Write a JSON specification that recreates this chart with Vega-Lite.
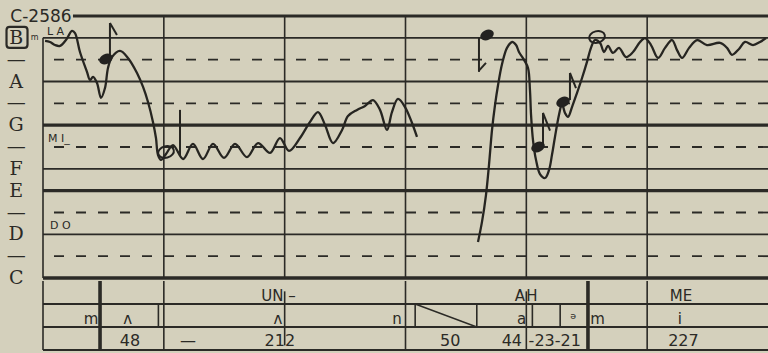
{
  "$schema": "https://vega.github.io/schema/vega-lite/v6.json",
  "width": 725,
  "height": 334,
  "autosize": {"type": "none"},
  "padding": {"left": 43, "top": 16, "right": 0, "bottom": 3},
  "background": "#d4d0bc",
  "config": {"view": {"stroke": null}, "axis": {"grid": false, "domain": false, "ticks": false}},
  "datasets": {
    "staffLines": [
      {"s": 0, "note": "C", "label": "C", "kind": "triad"}, {"s": 1, "note": "C#", "label": "—", "kind": "sharp"},
      {"s": 2, "note": "D", "label": "D", "kind": "natural"}, {"s": 3, "note": "D#", "label": "—", "kind": "sharp"},
      {"s": 4, "note": "E", "label": "E", "kind": "triad"}, {"s": 5, "note": "F", "label": "F", "kind": "natural"},
      {"s": 6, "note": "F#", "label": "—", "kind": "sharp"}, {"s": 7, "note": "G", "label": "G", "kind": "triad"},
      {"s": 8, "note": "G#", "label": "—", "kind": "sharp"}, {"s": 9, "note": "A", "label": "A", "kind": "natural"},
      {"s": 10, "note": "A#", "label": "—", "kind": "sharp"}, {"s": 11, "note": "B", "label": "B", "kind": "natural"}
    ],
    "staffV": [
      {"t": 0, "s0": 0, "s1": 11}, {"t": 1, "s0": 0, "s1": 12}, {"t": 2, "s0": 0, "s1": 12},
      {"t": 3, "s0": 0, "s1": 12}, {"t": 4, "s0": 0, "s1": 12}, {"t": 5, "s0": 0, "s1": 12}
    ],
    "curve": [
      {"seg": "a", "t": 0.017, "s": 10.86}, {"seg": "a", "t": 0.058, "s": 10.81}, {"seg": "a", "t": 0.099, "s": 10.67},
      {"seg": "a", "t": 0.141, "s": 10.63}, {"seg": "a", "t": 0.19, "s": 10.9}, {"seg": "a", "t": 0.24, "s": 11.32},
      {"seg": "a", "t": 0.265, "s": 11.22}, {"seg": "a", "t": 0.306, "s": 10.35}, {"seg": "a", "t": 0.364, "s": 9.44},
      {"seg": "a", "t": 0.389, "s": 9.07}, {"seg": "a", "t": 0.414, "s": 9.21}, {"seg": "a", "t": 0.447, "s": 8.93},
      {"seg": "a", "t": 0.48, "s": 8.25}, {"seg": "a", "t": 0.513, "s": 8.7}, {"seg": "a", "t": 0.538, "s": 9.62},
      {"seg": "a", "t": 0.571, "s": 10.12}, {"seg": "a", "t": 0.637, "s": 10.4}, {"seg": "a", "t": 0.703, "s": 10.08},
      {"seg": "a", "t": 0.778, "s": 9.39}, {"seg": "a", "t": 0.828, "s": 8.75}, {"seg": "a", "t": 0.869, "s": 8.06},
      {"seg": "a", "t": 0.91, "s": 7.15}, {"seg": "a", "t": 0.935, "s": 6.41}, {"seg": "a", "t": 0.952, "s": 5.63},
      {"seg": "a", "t": 0.977, "s": 5.41}, {"seg": "a", "t": 1.018, "s": 5.68}, {"seg": "a", "t": 1.076, "s": 6.09},
      {"seg": "a", "t": 1.159, "s": 5.45}, {"seg": "a", "t": 1.241, "s": 6.14}, {"seg": "a", "t": 1.324, "s": 5.45},
      {"seg": "a", "t": 1.407, "s": 6.14}, {"seg": "a", "t": 1.498, "s": 5.5}, {"seg": "a", "t": 1.589, "s": 6.14},
      {"seg": "a", "t": 1.688, "s": 5.54}, {"seg": "a", "t": 1.779, "s": 6.18}, {"seg": "a", "t": 1.879, "s": 5.73},
      {"seg": "a", "t": 1.961, "s": 6.41}, {"seg": "a", "t": 2.036, "s": 5.82}, {"seg": "a", "t": 2.127, "s": 6.41},
      {"seg": "a", "t": 2.21, "s": 7.15}, {"seg": "a", "t": 2.276, "s": 7.6}, {"seg": "a", "t": 2.334, "s": 7.01},
      {"seg": "a", "t": 2.4, "s": 6.18}, {"seg": "a", "t": 2.475, "s": 6.78}, {"seg": "a", "t": 2.524, "s": 7.42},
      {"seg": "a", "t": 2.599, "s": 7.7}, {"seg": "a", "t": 2.665, "s": 7.88}, {"seg": "a", "t": 2.731, "s": 8.15},
      {"seg": "a", "t": 2.789, "s": 7.7}, {"seg": "a", "t": 2.847, "s": 6.78}, {"seg": "a", "t": 2.888, "s": 7.6},
      {"seg": "a", "t": 2.938, "s": 8.2}, {"seg": "a", "t": 2.996, "s": 7.83}, {"seg": "a", "t": 3.054, "s": 7.1},
      {"seg": "a", "t": 3.095, "s": 6.46},
      {"seg": "b", "t": 3.6, "s": 1.65}, {"seg": "b", "t": 3.633, "s": 2.57}, {"seg": "b", "t": 3.666, "s": 3.8},
      {"seg": "b", "t": 3.691, "s": 5.18}, {"seg": "b", "t": 3.716, "s": 6.78}, {"seg": "b", "t": 3.741, "s": 7.93},
      {"seg": "b", "t": 3.766, "s": 8.84}, {"seg": "b", "t": 3.799, "s": 9.8}, {"seg": "b", "t": 3.84, "s": 10.54},
      {"seg": "b", "t": 3.882, "s": 10.81}, {"seg": "b", "t": 3.915, "s": 10.67}, {"seg": "b", "t": 3.939, "s": 10.35},
      {"seg": "b", "t": 3.981, "s": 9.99}, {"seg": "b", "t": 4.014, "s": 9.62}, {"seg": "b", "t": 4.03, "s": 8.61},
      {"seg": "b", "t": 4.039, "s": 7.47}, {"seg": "b", "t": 4.055, "s": 6.32}, {"seg": "b", "t": 4.08, "s": 5.41},
      {"seg": "b", "t": 4.113, "s": 4.76}, {"seg": "b", "t": 4.155, "s": 4.58}, {"seg": "b", "t": 4.188, "s": 4.95},
      {"seg": "b", "t": 4.212, "s": 5.63}, {"seg": "b", "t": 4.237, "s": 6.46}, {"seg": "b", "t": 4.27, "s": 7.47},
      {"seg": "b", "t": 4.295, "s": 7.97}, {"seg": "b", "t": 4.32, "s": 7.56}, {"seg": "b", "t": 4.345, "s": 7.38},
      {"seg": "b", "t": 4.378, "s": 7.83}, {"seg": "b", "t": 4.419, "s": 8.47}, {"seg": "b", "t": 4.461, "s": 9.16},
      {"seg": "b", "t": 4.502, "s": 9.9}, {"seg": "b", "t": 4.535, "s": 10.54}, {"seg": "b", "t": 4.568, "s": 10.9},
      {"seg": "b", "t": 4.61, "s": 10.77}, {"seg": "b", "t": 4.643, "s": 10.35}, {"seg": "b", "t": 4.676, "s": 10.63},
      {"seg": "b", "t": 4.717, "s": 10.31}, {"seg": "b", "t": 4.767, "s": 10.54}, {"seg": "b", "t": 4.825, "s": 10.12},
      {"seg": "b", "t": 4.883, "s": 10.35}, {"seg": "b", "t": 4.941, "s": 10.81}, {"seg": "b", "t": 4.982, "s": 10.99},
      {"seg": "b", "t": 5.032, "s": 10.67}, {"seg": "b", "t": 5.09, "s": 10.08}, {"seg": "b", "t": 5.148, "s": 10.54},
      {"seg": "b", "t": 5.206, "s": 10.9}, {"seg": "b", "t": 5.247, "s": 10.44}, {"seg": "b", "t": 5.289, "s": 10.08},
      {"seg": "b", "t": 5.347, "s": 10.54}, {"seg": "b", "t": 5.413, "s": 10.9}, {"seg": "b", "t": 5.495, "s": 10.67},
      {"seg": "b", "t": 5.603, "s": 10.77}, {"seg": "b", "t": 5.661, "s": 10.54}, {"seg": "b", "t": 5.702, "s": 10.22},
      {"seg": "b", "t": 5.76, "s": 10.49}, {"seg": "b", "t": 5.81, "s": 10.81}, {"seg": "b", "t": 5.876, "s": 10.67},
      {"seg": "b", "t": 5.934, "s": 10.81}, {"seg": "b", "t": 5.984, "s": 10.99}
    ],
    "noteHeads": [
      {"t": 0.521, "s": 10.03, "head": "filled"}, {"t": 3.675, "s": 11.13, "head": "filled"},
      {"t": 4.097, "s": 6.0, "head": "filled"}, {"t": 4.304, "s": 8.06, "head": "filled"},
      {"t": 4.585, "s": 11.04, "head": "open"}, {"t": 1.018, "s": 5.77, "head": "open"}
    ],
    "noteStems": [
      {"t": 0.554, "s": 10.1, "t2": 0.554, "s2": 11.68}, {"t": 0.554, "s": 11.68, "t2": 0.612, "s2": 11.13},
      {"t": 3.608, "s": 11.0, "t2": 3.608, "s2": 9.44}, {"t": 3.608, "s": 9.5, "t2": 3.666, "s2": 9.85},
      {"t": 4.138, "s": 6.1, "t2": 4.138, "s2": 7.56}, {"t": 4.138, "s": 7.56, "t2": 4.196, "s2": 6.75},
      {"t": 4.361, "s": 8.15, "t2": 4.361, "s2": 9.39}, {"t": 4.361, "s": 9.39, "t2": 4.411, "s2": 8.7},
      {"t": 1.134, "s": 5.6, "t2": 1.134, "s2": 7.7}
    ],
    "tableV": [
      {"t": 0, "r0": 0, "r1": 3, "kind": "thin"}, {"t": 0.472, "r0": 0, "r1": 3, "kind": "thick"},
      {"t": 0.955, "r0": 1, "r1": 2, "kind": "thin"}, {"t": 1, "r0": 0, "r1": 3, "kind": "thin"},
      {"t": 2, "r0": 0.45, "r1": 2.8, "kind": "thin"}, {"t": 3, "r0": 0, "r1": 3, "kind": "thin"},
      {"t": 3.08, "r0": 1, "r1": 2, "kind": "thin"}, {"t": 3.59, "r0": 1, "r1": 2, "kind": "thin"},
      {"t": 4, "r0": 0.45, "r1": 3, "kind": "thin"}, {"t": 4.05, "r0": 1, "r1": 2, "kind": "thin"},
      {"t": 4.28, "r0": 1, "r1": 2, "kind": "thin"}, {"t": 4.51, "r0": 0, "r1": 3, "kind": "thick"},
      {"t": 5, "r0": 0, "r1": 3, "kind": "thin"}
    ],
    "syllables": [
      {"t": 1.99, "r": 0.5, "text": "UN", "align": "right"}, {"t": 2.03, "r": 0.5, "text": "–", "align": "left"},
      {"t": 3.99, "r": 0.5, "text": "A", "align": "right"}, {"t": 4.0, "r": 0.5, "text": "H", "align": "left"},
      {"t": 5.28, "r": 0.5, "text": "ME", "align": "center"}
    ],
    "phones": [
      {"t": 0.397, "r": 1.5, "text": "m"}, {"t": 0.7, "r": 1.5, "text": "ʌ"}, {"t": 1.945, "r": 1.5, "text": "ʌ"},
      {"t": 2.93, "r": 1.5, "text": "n"}, {"t": 3.96, "r": 1.5, "text": "a"}, {"t": 4.39, "r": 1.5, "text": "ᵊ"},
      {"t": 4.59, "r": 1.5, "text": "m"}, {"t": 5.27, "r": 1.5, "text": "i"}
    ],
    "durations": [
      {"t": 0.72, "r": 2.5, "text": "48"}, {"t": 1.2, "r": 2.5, "text": "—"}, {"t": 1.96, "r": 2.5, "text": "212"},
      {"t": 3.37, "r": 2.5, "text": "50"}, {"t": 3.88, "r": 2.5, "text": "44"}, {"t": 4.235, "r": 2.5, "text": "-23-21"},
      {"t": 5.3, "r": 2.5, "text": "227"}
    ]
  },
  "resolve": {"scale": {"y": "independent"}, "axis": {"y": "independent"}},
  "layer": [
    {
      "layer": [
        {
          "data": {"name": "staffLines"},
          "transform": [{"filter": "datum.kind == 'triad'"}],
          "mark": {"type": "rule", "color": "#2b2a26", "strokeWidth": 3.4},
          "encoding": {
            "y": {
              "field": "s", "type": "quantitative", "axis": null,
              "scale": {"domain": [0, 12], "range": [262, 0], "nice": false, "zero": false}
            }
          }
        },
        {
          "data": {"name": "staffLines"},
          "transform": [{"filter": "datum.kind == 'natural'"}],
          "mark": {"type": "rule", "color": "#2b2a26", "strokeWidth": 1.8},
          "encoding": {"y": {"field": "s", "type": "quantitative", "axis": null}}
        },
        {
          "data": {"name": "staffLines"},
          "transform": [{"filter": "datum.kind == 'sharp'"}],
          "mark": {"type": "rule", "color": "#2b2a26", "strokeWidth": 1.8, "strokeDash": [10, 12]},
          "encoding": {"y": {"field": "s", "type": "quantitative", "axis": null}}
        },
        {
          "data": {"name": "staffLines"},
          "mark": {"type": "text", "font": "DejaVu Serif", "fontSize": 19, "color": "#2b2a26", "align": "center", "baseline": "middle"},
          "encoding": {
            "x": {"datum": -0.222, "type": "quantitative", "axis": null},
            "y": {"field": "s", "type": "quantitative", "axis": null},
            "text": {"field": "label"}
          }
        },
        {
          "data": {"values": [{"t0": 0.248, "t1": 6, "s": 12}]},
          "mark": {"type": "rule", "color": "#2b2a26", "strokeWidth": 3},
          "encoding": {
            "x": {"field": "t0", "type": "quantitative", "axis": null, "scale": {"domain": [0, 6], "nice": false, "zero": false}},
            "x2": {"field": "t1"},
            "y": {"field": "s", "type": "quantitative", "axis": null}
          }
        },
        {
          "data": {"name": "staffV"},
          "mark": {"type": "rule", "color": "#2b2a26", "strokeWidth": 1.6},
          "encoding": {
            "x": {"field": "t", "type": "quantitative", "axis": null},
            "y": {"field": "s0", "type": "quantitative", "axis": null},
            "y2": {"field": "s1"}
          }
        },
        {
          "data": {"name": "curve"},
          "mark": {"type": "line", "color": "#262521", "strokeWidth": 2.3, "interpolate": "catmull-rom"},
          "encoding": {
            "x": {"field": "t", "type": "quantitative", "axis": null},
            "y": {"field": "s", "type": "quantitative", "axis": null},
            "detail": {"field": "seg"}
          }
        },
        {
          "data": {"name": "noteStems"},
          "mark": {"type": "rule", "color": "#262521", "strokeWidth": 2},
          "encoding": {
            "x": {"field": "t", "type": "quantitative", "axis": null},
            "y": {"field": "s", "type": "quantitative", "axis": null},
            "x2": {"field": "t2"},
            "y2": {"field": "s2"}
          }
        },
        {
          "data": {"name": "noteHeads"},
          "transform": [{"filter": "datum.head == 'filled'"}],
          "mark": {"type": "point", "shape": "M -1 0 A 1 0.72 0 1 1 1 0 A 1 0.72 0 1 1 -1 0 Z", "filled": true, "color": "#232220", "opacity": 1, "size": 196, "angle": -25},
          "encoding": {
            "x": {"field": "t", "type": "quantitative", "axis": null},
            "y": {"field": "s", "type": "quantitative", "axis": null}
          }
        },
        {
          "data": {"name": "noteHeads"},
          "transform": [{"filter": "datum.head == 'open'"}],
          "mark": {"type": "point", "shape": "M -1 0 A 1 0.72 0 1 1 1 0 A 1 0.72 0 1 1 -1 0 Z", "filled": false, "color": "#232220", "opacity": 1, "strokeWidth": 2, "size": 256, "angle": -15},
          "encoding": {
            "x": {"field": "t", "type": "quantitative", "axis": null},
            "y": {"field": "s", "type": "quantitative", "axis": null}
          }
        },
        {
          "data": {"values": [{"t": -0.215, "s": 11.02}]},
          "mark": {"type": "point", "shape": "M -1 -0.7 Q -1 -1 -0.7 -1 L 0.7 -1 Q 1 -1 1 -0.7 L 1 0.7 Q 1 1 0.7 1 L -0.7 1 Q -1 1 -1 0.7 Z", "filled": false, "color": "#2b2a26", "opacity": 1, "strokeWidth": 2.2, "size": 441},
          "encoding": {
            "x": {"field": "t", "type": "quantitative", "axis": null},
            "y": {"field": "s", "type": "quantitative", "axis": null}
          }
        },
        {
          "data": {"values": [{"t": -0.017, "s": 11.95, "text": "C-2586"}]},
          "mark": {"type": "text", "font": "DejaVu Sans", "fontSize": 17, "color": "#2b2a26", "align": "center", "baseline": "middle"},
          "encoding": {
            "x": {"field": "t", "type": "quantitative", "axis": null},
            "y": {"field": "s", "type": "quantitative", "axis": null},
            "text": {"field": "text"}
          }
        },
        {
          "data": {"values": [{"t": -0.07, "s": 10.97, "text": "m"}]},
          "mark": {"type": "text", "font": "DejaVu Sans", "fontSize": 8, "color": "#2b2a26", "align": "center", "baseline": "middle"},
          "encoding": {
            "x": {"field": "t", "type": "quantitative", "axis": null},
            "y": {"field": "s", "type": "quantitative", "axis": null},
            "text": {"field": "text"}
          }
        },
        {
          "data": {"values": [
            {"t": 0.033, "s": 11.27, "text": "L A"},
            {"t": 0.041, "s": 6.37, "text": "M I_"},
            {"t": 0.058, "s": 2.4, "text": "D O"}
          ]},
          "mark": {"type": "text", "font": "DejaVu Sans", "fontSize": 11, "color": "#2b2a26", "align": "left", "baseline": "middle"},
          "encoding": {
            "x": {"field": "t", "type": "quantitative", "axis": null},
            "y": {"field": "s", "type": "quantitative", "axis": null},
            "text": {"field": "text"}
          }
        }
      ]
    },
    {
      "layer": [
        {
          "data": {"values": [{"r": 1}, {"r": 2}, {"r": 3}]},
          "mark": {"type": "rule", "color": "#2b2a26", "strokeWidth": 1.8},
          "encoding": {
            "y": {"field": "r", "type": "quantitative", "axis": null, "scale": {"domain": [0, 3], "range": [265, 334], "nice": false, "zero": false}}
          }
        },
        {
          "data": {"name": "tableV"},
          "transform": [{"filter": "datum.kind == 'thin'"}],
          "mark": {"type": "rule", "color": "#2b2a26", "strokeWidth": 1.6},
          "encoding": {
            "x": {"field": "t", "type": "quantitative", "axis": null},
            "y": {"field": "r0", "type": "quantitative", "axis": null},
            "y2": {"field": "r1"}
          }
        },
        {
          "data": {"name": "tableV"},
          "transform": [{"filter": "datum.kind == 'thick'"}],
          "mark": {"type": "rule", "color": "#2b2a26", "strokeWidth": 3.6},
          "encoding": {
            "x": {"field": "t", "type": "quantitative", "axis": null},
            "y": {"field": "r0", "type": "quantitative", "axis": null},
            "y2": {"field": "r1"}
          }
        },
        {
          "data": {"values": [{"t": 3.08, "r": 1, "t2": 3.59, "r2": 2}]},
          "mark": {"type": "rule", "color": "#2b2a26", "strokeWidth": 1.4},
          "encoding": {
            "x": {"field": "t", "type": "quantitative", "axis": null},
            "y": {"field": "r", "type": "quantitative", "axis": null},
            "x2": {"field": "t2"},
            "y2": {"field": "r2"}
          }
        },
        {
          "data": {"name": "syllables"},
          "transform": [{"filter": "datum.align == 'right'"}],
          "mark": {"type": "text", "font": "DejaVu Sans", "fontSize": 15, "color": "#2b2a26", "align": "right", "baseline": "middle", "dy": 3},
          "encoding": {
            "x": {"field": "t", "type": "quantitative", "axis": null},
            "y": {"field": "r", "type": "quantitative", "axis": null},
            "text": {"field": "text"}
          }
        },
        {
          "data": {"name": "syllables"},
          "transform": [{"filter": "datum.align == 'left'"}],
          "mark": {"type": "text", "font": "DejaVu Sans", "fontSize": 15, "color": "#2b2a26", "align": "left", "baseline": "middle", "dy": 3},
          "encoding": {
            "x": {"field": "t", "type": "quantitative", "axis": null},
            "y": {"field": "r", "type": "quantitative", "axis": null},
            "text": {"field": "text"}
          }
        },
        {
          "data": {"name": "syllables"},
          "transform": [{"filter": "datum.align == 'center'"}],
          "mark": {"type": "text", "font": "DejaVu Sans", "fontSize": 15, "color": "#2b2a26", "align": "center", "baseline": "middle", "dy": 3},
          "encoding": {
            "x": {"field": "t", "type": "quantitative", "axis": null},
            "y": {"field": "r", "type": "quantitative", "axis": null},
            "text": {"field": "text"}
          }
        },
        {
          "data": {"name": "phones"},
          "mark": {"type": "text", "font": "DejaVu Sans", "fontSize": 15, "color": "#2b2a26", "align": "center", "baseline": "middle", "dy": 3},
          "encoding": {
            "x": {"field": "t", "type": "quantitative", "axis": null},
            "y": {"field": "r", "type": "quantitative", "axis": null},
            "text": {"field": "text"}
          }
        },
        {
          "data": {"name": "durations"},
          "mark": {"type": "text", "font": "DejaVu Sans", "fontSize": 16, "color": "#2b2a26", "align": "center", "baseline": "middle", "dy": 2},
          "encoding": {
            "x": {"field": "t", "type": "quantitative", "axis": null},
            "y": {"field": "r", "type": "quantitative", "axis": null},
            "text": {"field": "text"}
          }
        }
      ]
    }
  ]
}
